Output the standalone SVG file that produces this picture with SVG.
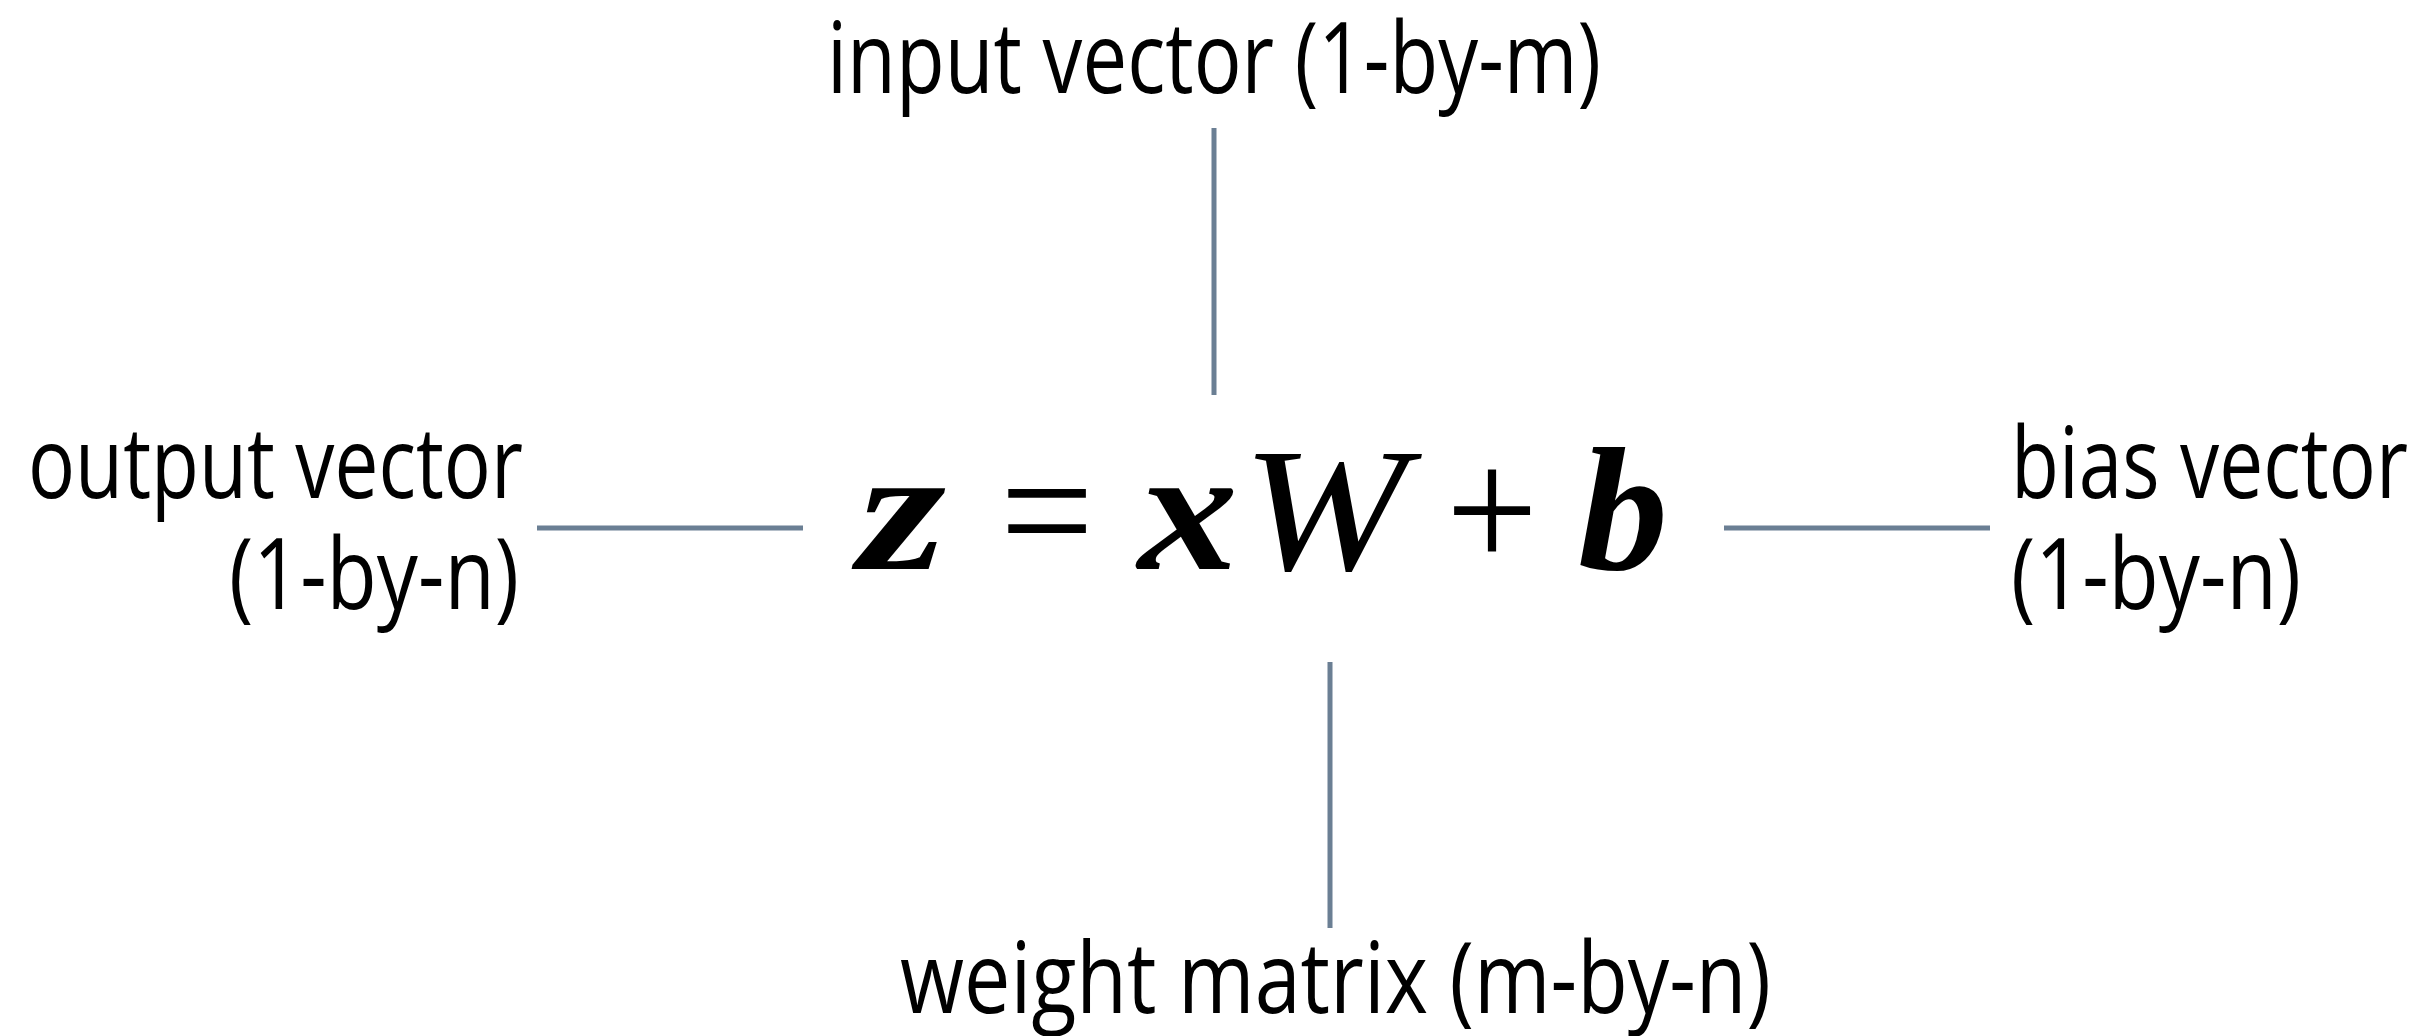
<svg xmlns="http://www.w3.org/2000/svg" width="2425" height="1036" viewBox="0 0 2425 1036">
<style>
.lbl{font-family:"Open Sans","Liberation Sans",sans-serif;font-size:98px;fill:#000}
.eq{font-family:"Liberation Serif","Times New Roman",serif;font-size:176px;fill:#000}
.bi{font-weight:bold;font-style:italic}
.it{font-style:italic}
.con{stroke:#6b7f94;stroke-width:5;fill:none}
</style>
<rect width="2425" height="1036" fill="#fff"/>
<g id="connectors">
<line class="con" x1="1214" y1="128" x2="1214" y2="395"/>
<line class="con" x1="537" y1="528" x2="803" y2="528"/>
<line class="con" x1="1724" y1="528" x2="1990" y2="528"/>
<line class="con" x1="1330" y1="662" x2="1330" y2="928"/>
</g>
<g id="equation">
<text class="eq bi" x="858" y="569" textLength="88" lengthAdjust="spacingAndGlyphs">z</text>
<text class="eq" x="1000" y="569" textLength="94" lengthAdjust="spacingAndGlyphs">=</text>
<text class="eq bi" x="1138" y="569" textLength="100" lengthAdjust="spacingAndGlyphs">x</text>
<text class="eq it" x="1242" y="569" textLength="165" lengthAdjust="spacingAndGlyphs">W</text>
<text class="eq" x="1446" y="569" textLength="92" lengthAdjust="spacingAndGlyphs">+</text>
<text class="eq bi" x="1578" y="569" textLength="90" lengthAdjust="spacingAndGlyphs">b</text>
</g>
<g id="input">
<text class="lbl" x="827" y="93" textLength="774" lengthAdjust="spacingAndGlyphs">input vector (1-by-m)</text>
</g>
<g id="output">
<text class="lbl" x="28" y="498" textLength="495" lengthAdjust="spacingAndGlyphs">output vector</text>
<text class="lbl" x="229" y="609" textLength="290" lengthAdjust="spacingAndGlyphs">(1-by-n)</text>
</g>
<g id="bias">
<text class="lbl" x="2011" y="498" textLength="397" lengthAdjust="spacingAndGlyphs">bias vector</text>
<text class="lbl" x="2011" y="609" textLength="290" lengthAdjust="spacingAndGlyphs">(1-by-n)</text>
</g>
<g id="weight">
<text class="lbl" x="900" y="1013" textLength="871" lengthAdjust="spacingAndGlyphs">weight matrix (m-by-n)</text>
</g>
</svg>
